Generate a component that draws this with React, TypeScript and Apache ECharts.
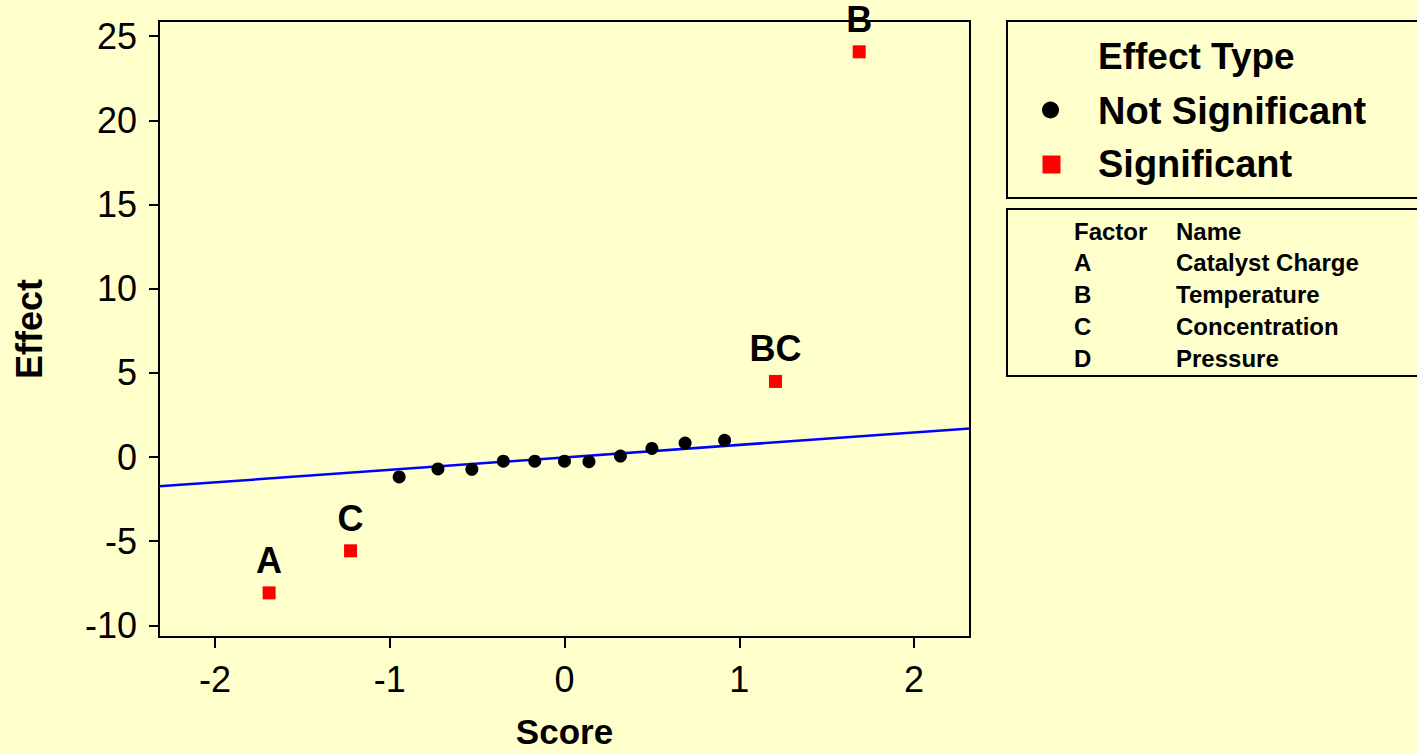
import React, { useEffect, useRef } from "react";
import * as echarts from "echarts";

// ---- data ----
const sigScores = [-1.69, -1.224, 1.207, 1.686];
const sigEffects = [-8.07, -5.57, 4.49, 24.07];
const sigLabels = ["A", "C", "BC", "B"];

const nsScores = [-0.946, -0.724, -0.53, -0.35, -0.17, 0.0, 0.14, 0.32, 0.5, 0.69, 0.916];
const nsEffects = [-1.18, -0.71, -0.73, -0.25, -0.25, -0.25, -0.28, 0.06, 0.51, 0.83, 0.99];

const lineScores = [-2.32, 2.32];
const lineEffects = [-1.74, 1.7];

const xTicks = [-2, -1, 0, 1, 2];
const yTicks = [-10, -5, 0, 5, 10, 15, 20, 25];

const legendTitle = "Effect Type";
const seriesNames = ["Not Significant", "Significant"];
const factorHeader = ["Factor", "Name"];
const factorCodes = ["A", "B", "C", "D"];
const factorNames = ["Catalyst Charge", "Temperature", "Concentration", "Pressure"];

const BG = "#FFFFCC";
const FONT = "'Liberation Sans', Arial, Helvetica, sans-serif";

export default function App() {
  const ref = useRef<HTMLDivElement>(null);

  useEffect(() => {
    if (!ref.current) return;
    const chart = echarts.init(ref.current, undefined, { renderer: "svg" });

    const graphics: any[] = [
      {
        type: "rect",
        shape: { x: 1007, y: 21, width: 500, height: 177 },
        style: { fill: "none", stroke: "#000", lineWidth: 2 },
      },
      {
        type: "rect",
        shape: { x: 1007, y: 209, width: 500, height: 167 },
        style: { fill: "none", stroke: "#000", lineWidth: 2 },
      },
      {
        type: "text",
        x: 1098,
        y: 56,
        style: { text: legendTitle, font: `bold 37px ${FONT}`, fill: "#000", verticalAlign: "middle" },
      },
      {
        type: "circle",
        shape: { cx: 1050.5, cy: 110, r: 8.5 },
        style: { fill: "#000" },
      },
      {
        type: "text",
        x: 1098,
        y: 111,
        style: { text: seriesNames[0], font: `bold 38px ${FONT}`, fill: "#000", verticalAlign: "middle" },
      },
      {
        type: "rect",
        shape: { x: 1042.5, y: 155.5, width: 18, height: 18 },
        style: { fill: "#FF0000" },
      },
      {
        type: "text",
        x: 1098,
        y: 164,
        style: { text: seriesNames[1], font: `bold 38px ${FONT}`, fill: "#000", verticalAlign: "middle" },
      },
      {
        type: "text",
        x: 1074,
        y: 231,
        style: { text: factorHeader[0], font: `bold 24px ${FONT}`, fill: "#000", verticalAlign: "middle" },
      },
      {
        type: "text",
        x: 1176,
        y: 231,
        style: { text: factorHeader[1], font: `bold 24px ${FONT}`, fill: "#000", verticalAlign: "middle" },
      },
    ];
    factorCodes.forEach((c, i) => {
      const y = 262 + i * 32.2;
      graphics.push({
        type: "text",
        x: 1074,
        y,
        style: { text: c, font: `bold 24px ${FONT}`, fill: "#000", verticalAlign: "middle" },
      });
      graphics.push({
        type: "text",
        x: 1176,
        y,
        style: { text: factorNames[i], font: `bold 24px ${FONT}`, fill: "#000", verticalAlign: "middle" },
      });
    });

    chart.setOption({
      animation: false,
      backgroundColor: BG,
      textStyle: { fontFamily: FONT },
      grid: {
        left: 159,
        top: 21,
        right: 447,
        bottom: 114,
        show: true,
        backgroundColor: BG,
        borderColor: "#000",
        borderWidth: 2,
      },
      xAxis: {
        type: "value",
        min: -2.32,
        max: 2.32,
        name: "Score",
        nameLocation: "middle",
        nameGap: 77,
        nameTextStyle: { fontSize: 35, fontWeight: "bold", color: "#000", fontFamily: FONT },
        axisLine: { show: true, onZero: false, lineStyle: { color: "#000", width: 2 } },
        axisTick: { show: true, length: 11, customValues: xTicks, lineStyle: { color: "#000", width: 2 } },
        axisLabel: { customValues: xTicks, fontSize: 36, color: "#000", margin: 24, fontFamily: FONT },
        splitLine: { show: false },
      },
      yAxis: {
        type: "value",
        min: -10.69,
        max: 25.9,
        name: "Effect",
        nameLocation: "middle",
        nameGap: 112,
        nameTextStyle: { fontSize: 36, fontWeight: "bold", color: "#000", fontFamily: FONT },
        axisLine: { show: true, onZero: false, lineStyle: { color: "#000", width: 2 } },
        axisTick: { show: true, length: 10, customValues: yTicks, lineStyle: { color: "#000", width: 2 } },
        axisLabel: { customValues: yTicks, fontSize: 36, color: "#000", margin: 22, fontFamily: FONT },
        splitLine: { show: false },
      },
      series: [
        {
          type: "line",
          name: "fit",
          data: lineScores.map((s, i) => [s, lineEffects[i]]),
          showSymbol: false,
          symbol: "none",
          lineStyle: { color: "#0000FF", width: 2.5 },
          z: 1,
        },
        {
          type: "scatter",
          name: seriesNames[0],
          data: nsScores.map((s, i) => [s, nsEffects[i]]),
          symbol: "circle",
          symbolSize: 13,
          itemStyle: { color: "#000", opacity: 1 },
          z: 3,
        },
        {
          type: "scatter",
          name: seriesNames[1],
          data: sigScores.map((s, i) => ({ value: [s, sigEffects[i]], name: sigLabels[i] })),
          symbol: "rect",
          symbolSize: 13,
          itemStyle: { color: "#FF0000", opacity: 1 },
          label: {
            show: true,
            position: "top",
            distance: 8,
            formatter: (p: any) => p.name,
            fontSize: 36,
            fontWeight: "bold",
            color: "#000",
            fontFamily: FONT,
          },
          labelLayout: { hideOverlap: false },
          z: 4,
        },
      ],
      graphic: graphics,
    });

    return () => chart.dispose();
  }, []);

  return (
    <div
      ref={ref}
      style={{ position: "absolute", left: 0, top: 0, width: 1417, height: 754 }}
    />
  );
}
